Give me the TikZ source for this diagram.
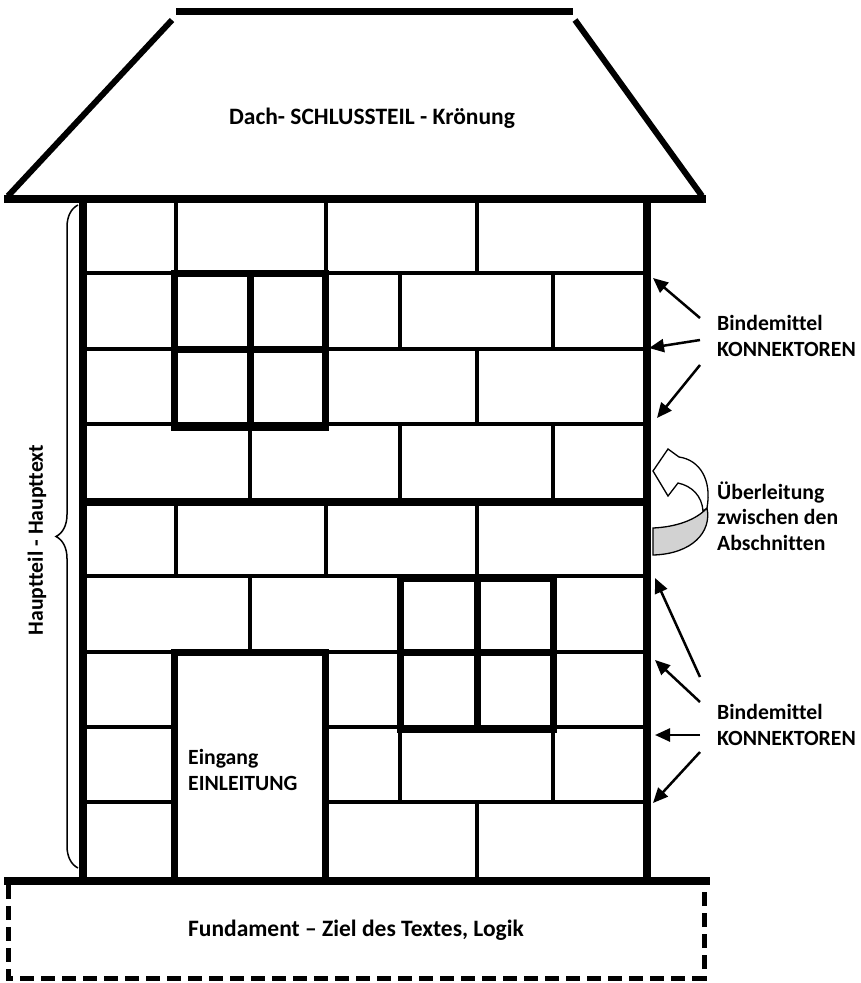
\documentclass[tikz,border=0pt]{standalone}
\usepackage{fontspec}
\setmainfont[Ligatures=NoCommon]{Carlito}
\usetikzlibrary{arrows.meta,decorations.pathreplacing}

\begin{document}
\begin{tikzpicture}[x=1pt,y=-1pt,font=\bfseries\fontsize{23.5}{25.5}\selectfont]
\tikzset{wall/.style={line width=8pt},
         brick/.style={line width=4pt},
         frame/.style={line width=7pt},
         hint/.style={line width=2.5pt,-{Triangle[length=15pt,width=13pt]}},
         note/.style={align=left,anchor=west,inner sep=0pt,
                      font=\bfseries\fontsize{21.7}{25.5}\selectfont}}
\useasboundingbox (0,0) rectangle (861,983);

% roof
\draw[frame] (176,11) -- (573,11);
\draw[line width=6pt] (172,20) -- (8,196) (575,20) -- (702,196);
\node (dach) at (372,118) {Dach- SCHLUSSTEIL - Krönung};

% courses and joints
\foreach \y in {273,349,424,576,652} \draw[brick] (83,\y) -- (647,\y);
\foreach \y in {727,802} \draw[brick] (83,\y) -- (174,\y) (325,\y) -- (647,\y);
\foreach \x/\a/\b in {176/199/273, 326/199/273, 477/199/273, 400/273/349,
    553/273/349, 477/349/424, 250/424/502, 400/424/502, 553/424/502,
    176/502/576, 326/502/576, 477/502/576, 250/576/652, 400/727/802,
    553/727/802, 477/802/880}
  \draw[brick] (\x,\a) -- (\x,\b);
\draw[wall] (83,502) -- (647,502);

% windows and door
\draw[frame] (174,273) rectangle (325,427) (250,273) -- (250,427) (174,349) -- (325,349);
\draw[frame] (400,578) rectangle (553,729) (477,578) -- (477,729) (400,652) -- (553,652);
\draw[frame] (174,880) -- (174,652) -- (325,652) -- (325,880);
\node[note] (eingang) at (188,770) {Eingang\\EINLEITUNG};

% walls, base, foundation
\draw[wall] (83,195) -- (83,884) (647,195) -- (647,884);
\draw[wall] (4,199) -- (706,199);
\draw[wall] (4,881) -- (710,881);
\draw[line width=5pt,dash pattern=on 14pt off 7pt] (8,885) -- (8,978) -- (704,978) -- (704,885);
\node (fundament) at (356,930) {Fundament – Ziel des Textes, Logik};

% brace
\draw[decorate,decoration={brace,amplitude=22pt},line width=1.5pt] (78,868) -- (78,205);
\node[rotate=90,font=\bfseries\fontsize{21.7}{25.5}\selectfont] (haupt) at (37,540) {Hauptteil - Haupttext};

% connectors
\node[note] (binde1) at (717,336) {Bindemittel\\KONNEKTOREN};
\node[note] (ueber) at (717,516) {Überleitung\\zwischen den\\Abschnitten};
\node[note] (binde2) at (717,725) {Bindemittel\\KONNEKTOREN};
\foreach \a/\b/\c/\d [count=\i] in {700/318/653/278, 700/340/649/348,
    700/365/657/418, 700/677/655/578, 700/702/655/660, 700/735/655/735,
    700/752/653/803}
{ \coordinate (s\i) at (\a,\b);
  \coordinate (t\i) at (\c,\d);
  \draw[hint] (s\i) -- (t\i); }

% transition arrow
\filldraw[fill=gray!35,line width=1.3pt] (653,528) .. controls (676,527) and (696,520) .. (707,508)
    .. controls (712,532) and (692,554) .. (653,555) -- cycle;
\filldraw[fill=white,line width=1.3pt] (707,508) .. controls (712,480) and (700,460) .. (679,457)
    -- (668,449) -- (653,471) -- (668,496) -- (678,483)
    .. controls (692,486) and (702,496) .. (703,511) -- cycle;
\end{tikzpicture}
\end{document}
